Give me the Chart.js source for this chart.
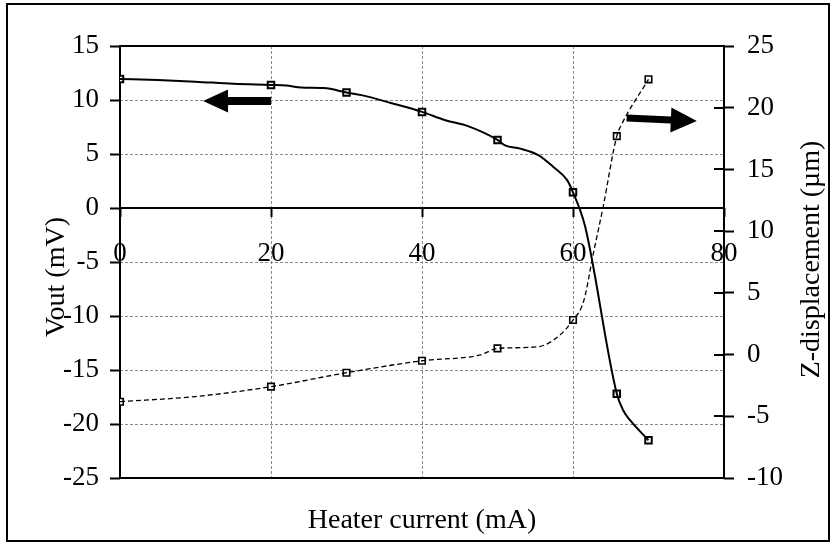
<!DOCTYPE html>
<html><head><meta charset="utf-8">
<script src="https://cdn.jsdelivr.net/npm/chart.js@4/dist/chart.umd.min.js"></script>
<style>html,body{margin:0;padding:0;background:#fff;overflow:hidden}canvas{display:block}</style>
</head><body>
<canvas id="c" width="836" height="543"></canvas>
<script>
// ---- data ----
const markerCurrent = [0, 20, 30, 40, 50, 60, 65.8, 70];
const voutMarkers   = [11.95, 11.4, 10.7, 8.9, 6.3, 1.45, -17.2, -21.5];
const zMarkers      = [-3.82, -2.6, -1.47, -0.5, 0.5, 2.8, 17.7, 22.3];

const voutCurveCurrent = [0, 5, 10, 15, 20, 22, 24, 27, 30, 32, 36, 40, 43, 46, 50, 51, 53, 55.4, 57.4, 59.2, 60, 61.6, 65.8, 66.7, 67.5, 70];
const voutCurve        = [11.95, 11.85, 11.7, 11.5, 11.4, 11.35, 11.15, 11.1, 10.7, 10.45, 9.7, 8.9, 8.15, 7.6, 6.3, 5.8, 5.5, 4.9, 3.8, 2.6, 1.45, -1.7, -17.2, -18.8, -19.6, -21.5];

const zCurveCurrent = [0, 10, 20, 30, 40, 47.7, 50, 55.4, 58.3, 60, 61.4, 62.7, 64, 65.8, 66.4, 70];
const zCurve        = [-3.82, -3.4, -2.6, -1.47, -0.5, -0.03, 0.5, 0.64, 1.6, 2.8, 4.3, 8.2, 12.0, 17.7, 18.6, 22.3];

const xTickLabels    = [0, 20, 40, 60, 80];
const voutTickLabels = [-25, -20, -15, -10, -5, 0, 5, 10, 15];
const zTickLabels    = [-10, -5, 0, 5, 10, 15, 20, 25];

const xTitle = 'Heater current (mA)';
const voutTitle = 'Vout (mV)';
const zTitle = 'Z-displacement (\u00b5m)';

// ---- build ----
const FAMILY = "'Liberation Serif', 'Times New Roman', serif";
const pts = (xs, ys) => xs.map((x, i) => ({x, y: ys[i]}));
const step = a => a[1] - a[0];
const last = a => a[a.length - 1];

function arrow(ctx, x1, y1, x2, y2, shaft, headLen, headW) {
  const dx = x2 - x1, dy = y2 - y1, L = Math.hypot(dx, dy);
  const ux = dx / L, uy = dy / L, nx = -uy, ny = ux;
  const bx = x2 - ux * headLen, by = y2 - uy * headLen;
  ctx.beginPath();
  ctx.moveTo(x1 + nx * shaft / 2, y1 + ny * shaft / 2);
  ctx.lineTo(bx + nx * shaft / 2, by + ny * shaft / 2);
  ctx.lineTo(bx + nx * headW / 2, by + ny * headW / 2);
  ctx.lineTo(x2, y2);
  ctx.lineTo(bx - nx * headW / 2, by - ny * headW / 2);
  ctx.lineTo(bx - nx * shaft / 2, by - ny * shaft / 2);
  ctx.lineTo(x1 - nx * shaft / 2, y1 - ny * shaft / 2);
  ctx.closePath();
  ctx.fill();
}

const decor = {
  id: 'decor',
  beforeDraw(chart) {
    const {ctx, width, height} = chart;
    ctx.save(); ctx.fillStyle = '#fff'; ctx.fillRect(0, 0, width, height); ctx.restore();
  },
  beforeDatasetsDraw(chart) {
    const {ctx, chartArea: a, scales} = chart;
    ctx.save();
    ctx.strokeStyle = '#000'; ctx.lineWidth = 2; ctx.setLineDash([]);
    ctx.strokeRect(a.left, a.top, a.right - a.left, a.bottom - a.top);
    const y0 = Math.round(scales.y.getPixelForValue(0));
    ctx.beginPath(); ctx.moveTo(a.left, y0); ctx.lineTo(a.right, y0); ctx.stroke();
    scales.y2.ticks.forEach(t => {
      const py = Math.round(scales.y2.getPixelForValue(t.value));
      ctx.beginPath(); ctx.moveTo(a.right - 10, py); ctx.lineTo(a.right, py); ctx.stroke();
    });
    ctx.restore();
  },
  afterDraw(chart) {
    const {ctx, chartArea: a, scales} = chart;
    ctx.save();
    // outer frame
    ctx.strokeStyle = '#000'; ctx.lineWidth = 2;
    ctx.strokeRect(7, 4, 822, 537);
    // arrows
    ctx.fillStyle = '#000';
    const X = v => scales.x.getPixelForValue(v);
    arrow(ctx, X(20), scales.y.getPixelForValue(9.9), X(11), scales.y.getPixelForValue(9.9), 8, 25, 23);
    arrow(ctx, X(67.1), scales.y2.getPixelForValue(19.17), X(76.4), scales.y2.getPixelForValue(18.92), 7, 26, 25);
    // vertical axis titles
    ctx.font = '28px ' + FAMILY;
    ctx.textAlign = 'center'; ctx.textBaseline = 'middle';
    const mid = (a.top + a.bottom) / 2;
    ctx.save(); ctx.translate(a.left - 63, mid + 15); ctx.rotate(-Math.PI / 2); ctx.fillText(voutTitle, 0, 0); ctx.restore();
    ctx.save(); ctx.translate(a.right + 88, mid - 2.5); ctx.rotate(-Math.PI / 2); ctx.fillText(zTitle, 0, 0); ctx.restore();
    ctx.restore();
  }
};

const tickFont = {family: FAMILY, size: 27};
const GRID = '#8a8a8a';

new Chart(document.getElementById('c'), {
  type: 'line',
  data: {
    datasets: [
      {data: pts(voutCurveCurrent, voutCurve), xAxisID: 'x', yAxisID: 'y', borderColor: '#000', borderWidth: 2,
       pointRadius: 0, cubicInterpolationMode: 'monotone', fill: false},
      {data: pts(zCurveCurrent, zCurve), xAxisID: 'x', yAxisID: 'y2', borderColor: '#000', borderWidth: 1.3,
       borderDash: [5, 3], pointRadius: 0, cubicInterpolationMode: 'monotone', fill: false},
      {data: pts(markerCurrent, voutMarkers), xAxisID: 'x', yAxisID: 'y', showLine: false,
       pointStyle: 'rect', pointRadius: 4.6, pointBorderWidth: 2, pointBorderColor: '#000', pointBackgroundColor: '#fff'},
      {data: pts(markerCurrent, zMarkers), xAxisID: 'x', yAxisID: 'y2', showLine: false,
       pointStyle: 'rect', pointRadius: 4.6, pointBorderWidth: 1.6, pointBorderColor: '#000', pointBackgroundColor: '#fff'}
    ]
  },
  options: {
    responsive: false, animation: false, devicePixelRatio: 1,
    layout: {padding: {top: 46, left: 0, right: 0, bottom: 0}},
    plugins: {legend: {display: false}, tooltip: {enabled: false}},
    scales: {
      x: {
        type: 'linear', position: 'bottom', min: xTickLabels[0], max: last(xTickLabels),
        ticks: {display: false, stepSize: step(xTickLabels)},
        grid: {color: GRID, lineWidth: 1, drawTicks: false},
        border: {display: false, dash: [3, 2]},
        title: {display: true, text: xTitle, color: '#000', font: {family: FAMILY, size: 28}, padding: {top: 0, bottom: 6}},
        afterFit: s => { s.height = 65; }
      },
      x2: {
        type: 'linear', position: {y: 0}, min: xTickLabels[0], max: last(xTickLabels),
        ticks: {stepSize: step(xTickLabels), color: '#000', font: tickFont, padding: 21, maxRotation: 0, autoSkip: false},
        grid: {drawOnChartArea: false, drawTicks: true, tickLength: 9, tickColor: '#000', tickWidth: 2},
        border: {display: false}
      },
      y: {
        type: 'linear', position: 'left', min: voutTickLabels[0], max: last(voutTickLabels),
        ticks: {stepSize: step(voutTickLabels), color: '#000', font: tickFont, padding: 11},
        grid: {color: GRID, lineWidth: 1, tickColor: '#000', tickWidth: 2, tickLength: 10},
        border: {display: false, dash: [3, 2]},
        afterFit: s => { s.width = 120; }
      },
      y2: {
        type: 'linear', position: 'right', min: zTickLabels[0], max: last(zTickLabels),
        ticks: {stepSize: step(zTickLabels), color: '#000', font: tickFont, padding: 13},
        grid: {drawOnChartArea: false, tickColor: '#000', tickWidth: 2, tickLength: 10},
        border: {display: false},
        afterFit: s => { s.width = 112; }
      }
    }
  },
  plugins: [decor]
});
</script>
</body></html>
